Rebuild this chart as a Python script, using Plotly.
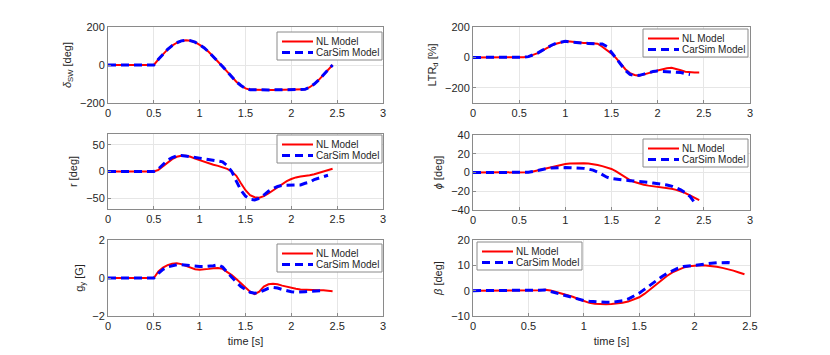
"""
NL model vs CarSim model comparison, 3x2 grid of time histories.
"""

import plotly.graph_objects as go

# common time base [s]
time = [0, 0.5, 0.55, 0.6, 0.65, 0.7, 0.75, 0.8, 0.85, 0.9, 0.95,
        1.0, 1.05, 1.1, 1.15, 1.2, 1.25, 1.3, 1.35, 1.4, 1.45,
        1.5, 1.55, 1.6, 1.65, 1.7, 1.75, 1.8, 1.85, 1.9, 1.95,
        2.0, 2.05, 2.1, 2.15, 2.2, 2.25, 2.3, 2.35, 2.4, 2.45]

# steering wheel angle [deg] (both models share the input)
delta_nl = [0, 0, 30, 58, 82, 102, 117, 127, 130, 128, 120,
            106, 90, 68, 44, 18, -8, -35, -62, -88, -108,
            -123, -130, -131, -131, -131, -131, -131, -131, -131, -131,
            -131, -131, -131, -128, -117, -100, -78, -53, -26, 0]
delta_cs = list(delta_nl)

# load transfer ratio [%]
ltr_nl = [0, 0, 1, 5, 14, 28, 45, 62, 77, 90, 100,
          106, 104, 100, 97, 95, 94, 93, 90, 70, 48,
          25, -5, -45, -78, -103, -116, -120, -113, -104, -95,
          -86, -78, -71, -68, -74, -85, -94, -98, -100, -100]
ltr_cs = [0, 0, 1, 5, 14, 28, 46, 64, 80, 93, 102,
          106, 102, 98, 95, 93, 92, 92, 91, 88, 72,
          35, -5, -45, -85, -112, -120, -118, -110, -100, -93,
          -90, -92, -94, -95, -96, -100, -107, -112, None, None]

# yaw rate [deg]
r_nl = [0, 0, 3, 10, 17, 23, 27.5, 29.5, 29.5, 27.5, 24,
        21, 18, 15, 12.5, 10.5, 8, 5, 0, -8, -22,
        -35, -44, -48, -49, -46, -41, -35, -29, -23, -18,
        -14, -11, -9.5, -8.5, -7, -5, -2.5, 0, 2.5, 5]
r_cs = [0, 0, 5, 14, 21, 26, 29, 30, 29, 28, 26,
        25, 23.5, 22, 21, 20, 18, 11, 0, -18, -35,
        -46, -52, -53, -50, -44, -37, -32, -28, -26, -25.5,
        -25.5, -25.5, -25, -22, -20, -15, -12, -9.5, -7, None]

# roll angle [deg]
phi_nl = [0, 0, 0, 0.2, 1, 2.2, 3.5, 4.8, 6, 7.2, 8.2,
          9, 9.5, 9.8, 10, 9.9, 9.6, 9, 8, 6.8, 5.5,
          3.8, 1.2, -2, -5, -8, -10.2, -11.8, -13, -14, -14.6,
          -15.2, -15.8, -16.5, -17.3, -18.5, -20, -22, -24.5, -27, -29.5]
phi_cs = [0, 0, 0, 0.2, 1, 2.2, 3.3, 4.2, 4.8, 5.1, 5.2,
          5.2, 5.1, 5, 4.8, 4.4, 3.6, 2.5, 0.5, -2.5, -5,
          -6.5, -7.3, -7.8, -8.3, -8.7, -9, -9.5, -10, -10.6, -11.2,
          -11.8, -12.5, -13.3, -14.5, -16.2, -18.5, -21.5, -25.5, -32, None]

# lateral acceleration [G]
gy_nl = [0, 0, 0.35, 0.55, 0.68, 0.75, 0.77, 0.73, 0.64, 0.53, 0.46,
         0.44, 0.45, 0.48, 0.51, 0.53, 0.48, 0.33, 0.15, -0.05, -0.28,
         -0.5, -0.72, -0.85, -0.72, -0.45, -0.33, -0.3, -0.33, -0.4, -0.47,
         -0.53, -0.57, -0.6, -0.62, -0.63, -0.64, -0.65, -0.65, -0.66, -0.7]
gy_cs = [0, 0, 0.25, 0.45, 0.58, 0.66, 0.7, 0.7, 0.67, 0.63, 0.6,
         0.6, 0.6, 0.61, 0.65, 0.7, 0.58, 0.3, 0.02, -0.22, -0.45,
         -0.62, -0.75, -0.8, -0.76, -0.65, -0.54, -0.5, -0.53, -0.6, -0.68,
         -0.72, -0.75, -0.75, -0.72, -0.7, -0.68, -0.67, -0.67, None, None]

# sideslip angle [deg]
beta_nl = [0, 0, 0, 0.2, 0.4, 0.1, -0.5, -1.1, -1.7, -2.4, -3.3,
           -4.2, -4.8, -5.2, -5.4, -5.4, -5.3, -5.1, -4.8, -4.3, -3.6,
           -2.6, -1.2, 0.5, 2.4, 4.2, 5.8, 7.2, 8.3, 9.1, 9.6,
           9.9, 10, 9.9, 9.7, 9.4, 9, 8.5, 7.9, 7.2, 6.5]
beta_cs = [0, 0, 0, 0.2, 0.3, -0.3, -1, -1.6, -2.2, -2.8, -3.4,
           -3.9, -4.2, -4.4, -4.5, -4.6, -4.6, -4.4, -4.0, -3.3, -2.3,
           -1.0, 0.6, 2.3, 3.9, 5.4, 6.8, 8, 8.9, 9.5, 9.8,
           10, 10.2, 10.5, 10.8, 11, 11.1, 11.1, 10.8, None, None]

legend_names = ['NL Model', 'CarSim Model']

# page body has an 8px margin, so the figure is a bit smaller than the window
OFF = 8
W, H = 830 - 2 * OFF, 355 - 2 * OFF
INK = '#262626'
EDGE = '#8a8a8a'
GRID = '#e6e6e6'
FONT = 'Liberation Sans, Arial, sans-serif'
RED, BLUE = '#ff0000', '#0000ff'
BLUE_DASH = '8px,5px'


def px_x(px):
    return (px - OFF) / W


def px_y(py):
    return 1 - (py - OFF) / H


# (nl, carsim, y title, y range, y ticks, x range,
#  box left, right, top, bottom px, legend left, top px)
panels = [
    (delta_nl, delta_cs, '<i>δ</i><sub>SW</sub> [deg]', [-200, 200], [-200, 0, 200],
     [0, 3], 108, 383, 27, 103, 277, 32),
    (ltr_nl, ltr_cs, 'LTR<sub>d</sub> [%]', [-300, 200], [-200, 0, 200],
     [0, 3], 473, 750, 27, 103, 643, 29),
    (r_nl, r_cs, 'r [deg]', [-70, 70], [-50, 0, 50],
     [0, 3], 108, 383, 134, 209, 277, 135),
    (phi_nl, phi_cs, '<i>ϕ</i> [deg]', [-40, 40], [-40, -20, 0, 20, 40],
     [0, 3], 473, 750, 135, 210, 643, 139),
    (gy_nl, gy_cs, 'g<sub>y</sub> [G]', [-2, 2], [-2, 0, 2],
     [0, 3], 108, 383, 240, 316, 277, 244),
    (beta_nl, beta_cs, '<i>β</i> [deg]', [-10, 20], [-10, 0, 10, 20],
     [0, 2.5], 473, 750, 240, 316, 477, 242),
]


def add_box_legend(fig, left, top, width=105, height=28):
    """MATLAB-style compact legend box drawn in paper coordinates."""
    fig.add_shape(type='rect', xref='paper', yref='paper', layer='above',
                  x0=px_x(left), x1=px_x(left + width),
                  y0=px_y(top + height), y1=px_y(top),
                  line=dict(color=EDGE, width=1), fillcolor='white')
    rows = [(top + 9.5, RED, 2, 'solid'), (top + 20.5, BLUE, 3, BLUE_DASH)]
    for name, (cy, color, lw, dash) in zip(legend_names, rows):
        fig.add_shape(type='line', xref='paper', yref='paper', layer='above',
                      x0=px_x(left + 5), x1=px_x(left + 36),
                      y0=px_y(cy), y1=px_y(cy),
                      line=dict(color=color, width=lw, dash=dash))
        fig.add_annotation(text=name, xref='paper', yref='paper',
                           x=px_x(left + 38), y=px_y(cy),
                           xanchor='left', yanchor='middle', showarrow=False,
                           borderpad=0,
                           font=dict(family=FONT, size=10, color=INK))


fig = go.Figure()
layout = {}

for i, (nl, cs, ytitle, yr, yticks, xr, l, r, top, bot, lx, ly) in enumerate(panels, start=1):
    sfx = '' if i == 1 else str(i)
    xa, ya = 'x' + sfx, 'y' + sfx

    fig.add_trace(go.Scatter(
        x=time, y=nl, name=legend_names[0], mode='lines',
        line=dict(color=RED, width=2),
        xaxis=xa, yaxis=ya, showlegend=False
    ))
    fig.add_trace(go.Scatter(
        x=time, y=cs, name=legend_names[1], mode='lines',
        line=dict(color=BLUE, width=3, dash=BLUE_DASH),
        xaxis=xa, yaxis=ya, showlegend=False
    ))

    common = dict(
        showline=True, mirror=True, linecolor=EDGE, linewidth=1,
        ticks='inside', ticklen=3, tickcolor=EDGE,
        showgrid=True, gridcolor=GRID, gridwidth=1, zeroline=False,
        tickfont=dict(family=FONT, size=11, color=INK),
        automargin=False,
    )
    xaxis = dict(common, domain=[px_x(l), px_x(r)], range=xr, dtick=0.5, anchor=ya)
    if i >= 5:  # only the bottom row carries the time label
        xaxis['title'] = dict(text='time [s]', standoff=6,
                              font=dict(family=FONT, size=11, color=INK))
    layout['xaxis' + sfx] = xaxis
    layout['yaxis' + sfx] = dict(
        common, domain=[px_y(bot), px_y(top)], range=yr,
        tickvals=yticks, anchor=xa,
        title=dict(text=ytitle, font=dict(family=FONT, size=11, color=INK), standoff=6),
    )
    add_box_legend(fig, lx, ly)

fig.update_layout(
    template='none',
    width=W, height=H,
    margin=dict(l=0, r=0, t=0, b=0),
    paper_bgcolor='white', plot_bgcolor='white',
    showlegend=False,
    **layout
)

fig.write_html("out.html")
